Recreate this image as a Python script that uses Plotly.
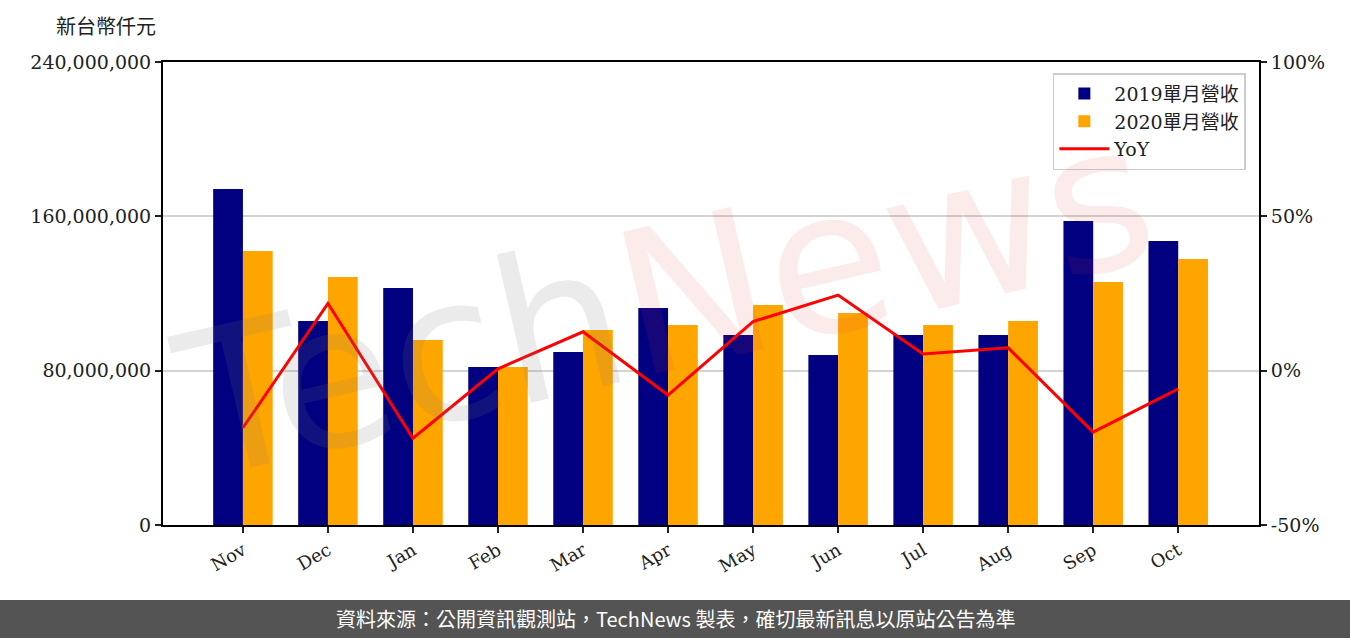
import plotly.graph_objects as go

months = ["Nov", "Dec", "Jan", "Feb", "Mar", "Apr", "May", "Jun", "Jul", "Aug", "Sep", "Oct"]
rev_2019 = [174.2, 105.7, 122.9, 81.9, 89.7, 112.5, 98.5, 88.1, 98.5, 98.5, 157.6, 147.2]
rev_2020 = [142.0, 128.6, 95.9, 81.9, 101.1, 103.7, 114.0, 109.9, 103.7, 105.7, 126.0, 137.9]
yoy = [-18.5, 21.8, -21.9, 0.6, 12.6, -7.9, 15.9, 24.5, 5.4, 7.4, -19.9, -5.9]

left_ticks = [0, 80, 160, 240]
left_labels = ["0", "80,000,000", "160,000,000", "240,000,000"]
right_ticks = [-50, 0, 50, 100]
right_labels = ["-50%", "0%", "50%", "100%"]

serif = "DejaVu Serif, Noto Sans CJK TC"

fig = go.Figure()

fig.add_trace(go.Bar(
    x=list(range(len(months))), y=rev_2019, name="2019單月營收",
    marker=dict(color="#000080", line=dict(width=0)), offsetgroup=0
))
fig.add_trace(go.Bar(
    x=list(range(len(months))), y=rev_2020, name="2020單月營收",
    marker=dict(color="#FFA500", line=dict(width=0)), offsetgroup=1
))
fig.add_trace(go.Scatter(
    x=list(range(len(months))), y=yoy, name="YoY", yaxis="y2",
    mode="lines", line=dict(color="#FF0000", width=3)
))

# watermark
fig.add_annotation(
    text='<span style="color:rgba(120,120,120,0.15)">Tech</span>'
         '<span style="color:rgba(220,60,60,0.10)">News</span>',
    xref="paper", yref="paper", x=(665 - 163) / 1096, y=(525 - 300) / 463,
    showarrow=False, textangle=-13,
    font=dict(size=200, family="DejaVu Sans")
)

# unit label
fig.add_annotation(text="新台幣仟元", xref="paper", yref="paper", x=-0.005, y=1.075,
                   xanchor="right", yanchor="middle", showarrow=False,
                   font=dict(size=20, family=serif, color="#222"))

# footer bar
fig.add_shape(type="rect", xref="paper", yref="paper",
              x0=-0.16, x1=1.1, y0=-0.162, y1=-0.26,
              fillcolor="#545454", line=dict(width=0), layer="above")
fig.add_annotation(text="資料來源：公開資訊觀測站，TechNews 製表，確切最新訊息以原站公告為準",
                   xref="paper", yref="paper", x=(675 - 163) / 1096, y=-0.203,
                   xanchor="center", yanchor="middle", showarrow=False,
                   font=dict(size=20, family="Noto Sans CJK TC", color="white"))

fig.update_layout(
    width=1350, height=638,
    margin=dict(l=163, r=91, t=62, b=113),
    plot_bgcolor="white", paper_bgcolor="white",
    barmode="group", bargap=0.3, bargroupgap=0,
    font=dict(family=serif, size=19, color="#222"),
    showlegend=True,
    legend=dict(x=0.988, y=0.976, xanchor="right", yanchor="top",
                bgcolor="rgba(255,255,255,0.85)", bordercolor="#cccccc", borderwidth=1.5,
                font=dict(size=19, family=serif, color="#222"), itemwidth=50,
                tracegroupgap=6),
    xaxis=dict(
        range=[-0.94, 11.95], tickmode="array", tickvals=list(range(len(months))),
        ticktext=months, tickangle=-30, ticks="outside", ticklen=6, tickwidth=2,
        tickcolor="#222", showline=True, linecolor="black", linewidth=2, mirror=True,
        showgrid=False, zeroline=False, tickfont=dict(size=18)
    ),
    yaxis=dict(
        range=[0, 240], tickmode="array", tickvals=left_ticks, ticktext=left_labels,
        ticks="outside", ticklen=6, tickwidth=2, tickcolor="#222",
        showline=True, linecolor="black", linewidth=2,
        showgrid=True, gridcolor="#d3d3d3", gridwidth=1.5, zeroline=False,
        tickfont=dict(size=19)
    ),
    yaxis2=dict(
        range=[-50, 100], overlaying="y", side="right", tickmode="array",
        tickvals=right_ticks, ticktext=right_labels,
        ticks="outside", ticklen=6, tickwidth=2, tickcolor="#222",
        showline=True, linecolor="black", linewidth=2,
        showgrid=False, zeroline=False, tickfont=dict(size=19)
    ),
)

fig.write_html("out.html", config={"displayModeBar": False},
               post_script="document.body.style.margin='0';")
